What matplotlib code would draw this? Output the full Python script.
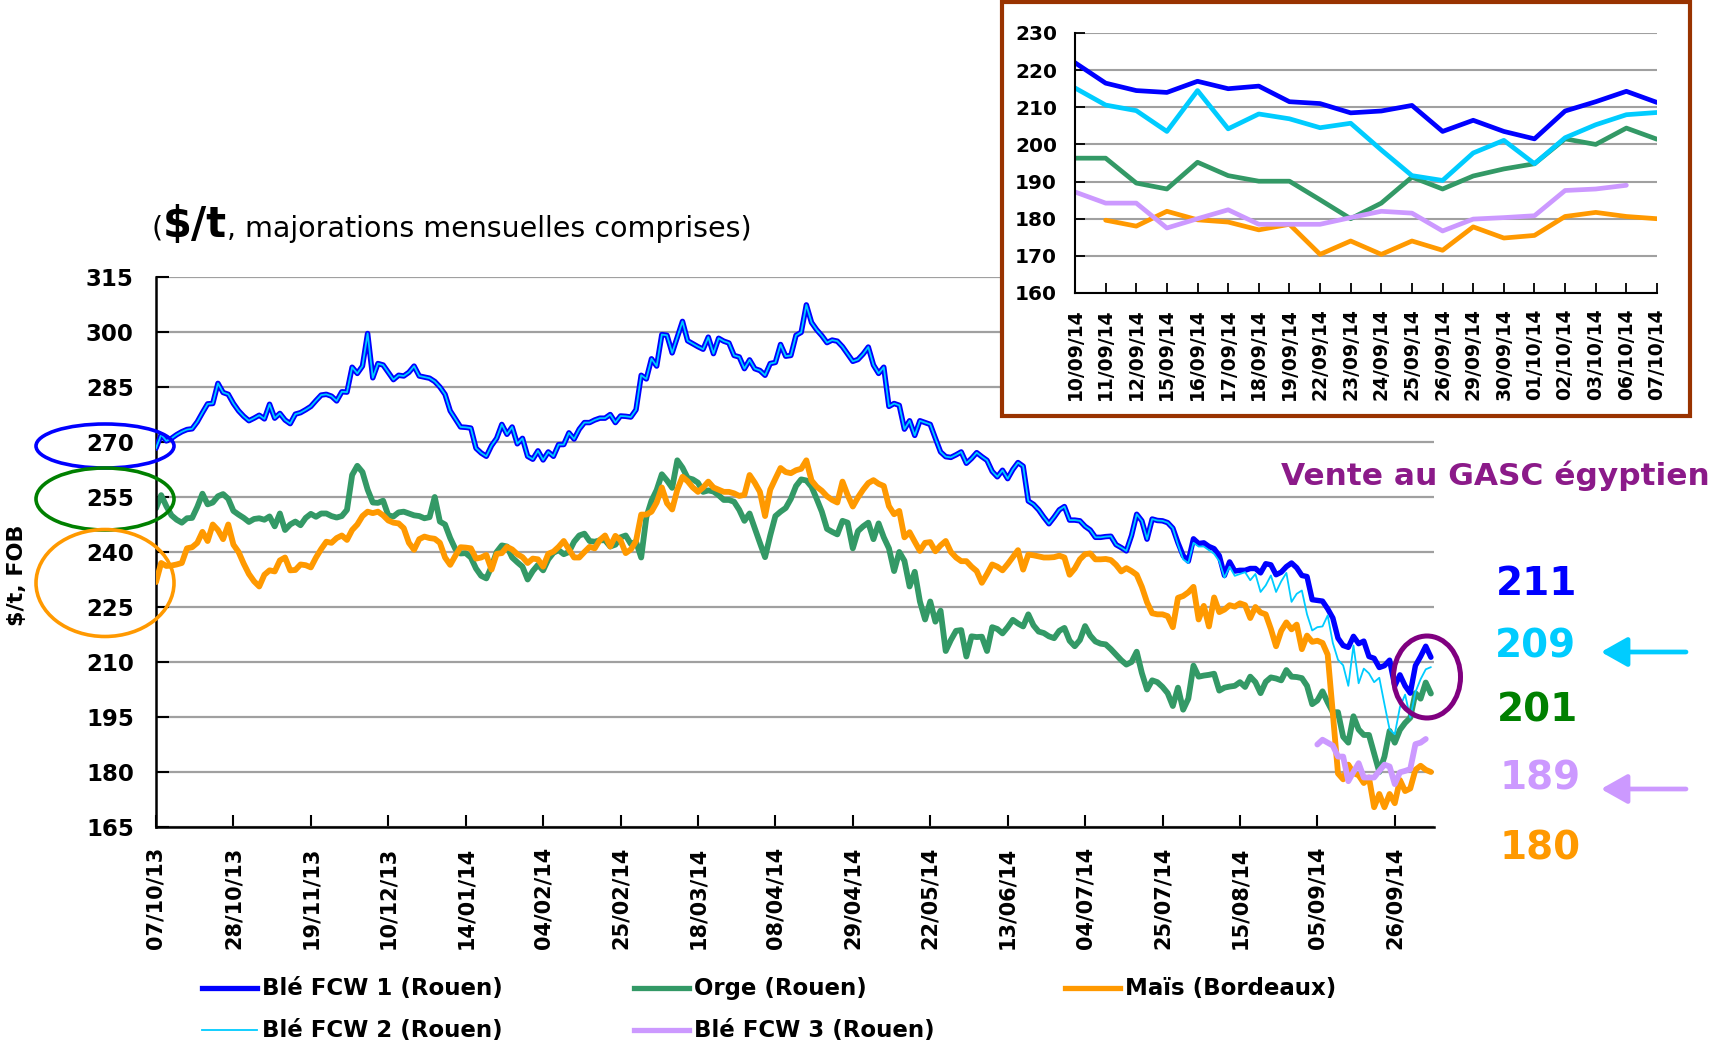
import numpy as np
import matplotlib
matplotlib.use("Agg")
from matplotlib import pyplot as plt
from matplotlib.patches import Ellipse, Rectangle, FancyArrowPatch
from matplotlib.lines import Line2D

W, H = 1713, 1048

# ---------------- data
dates_main = ["07/10/13", "28/10/13", "19/11/13", "10/12/13", "14/01/14", "04/02/14",
              "25/02/14", "18/03/14", "08/04/14", "29/04/14", "22/05/14", "13/06/14",
              "04/07/14", "25/07/14", "15/08/14", "05/09/14", "26/09/14"]
dates_zoom = ["10/09/14", "11/09/14", "12/09/14", "15/09/14", "16/09/14", "17/09/14",
              "18/09/14", "19/09/14", "22/09/14", "23/09/14", "24/09/14", "25/09/14",
              "26/09/14", "29/09/14", "30/09/14", "01/10/14", "02/10/14", "03/10/14",
              "06/10/14", "07/10/14"]
noms = ["Blé FCW 1 (Rouen)", "Orge (Rouen)", "Maïs (Bordeaux)",
        "Blé FCW 2 (Rouen)", "Blé FCW 3 (Rouen)"]

# prix quotidiens 07/10/13 -> 09/09/14
ble1_hist = [268.3, 272, 270.3, 271, 272, 272.8, 273.4, 273.6, 275.5, 278,
             280.4, 280.5, 286, 283.5, 283, 280.5, 278.5, 277, 275.8, 276.5,
             277.3, 276.3, 280.3, 276.5, 277.8, 276, 275, 277.6, 278, 278.8,
             279.7, 281.3, 282.8, 283, 282.5, 281.2, 283.7, 283.6, 290.4, 288.7,
             290.7, 299.6, 287.5, 291.4, 291, 289, 287, 288.2, 288, 289,
             290.7, 288, 287.7, 287.4, 286.5, 285, 283, 278.5, 276.3, 274.1,
             274, 273.8, 268.3, 267, 266.1, 269, 271, 274.8, 272.1, 274.1,
             269.5, 271, 266.1, 265.3, 267.6, 265.1, 267.3, 266.1, 269.3, 269.3,
             272.5, 270.8, 273.5, 275.3, 275.3, 276, 276.5, 276.5, 277.5, 275.3,
             277.1, 277, 276.8, 278.8, 288.2, 287.2, 292.7, 290.7, 299.3, 299.1,
             294.3, 298.6, 302.9, 297.6, 296.8, 296, 295.3, 298.6, 294.1, 298.3,
             297.5, 297, 293.6, 293.2, 290, 292.4, 290, 289.5, 288.2, 291.4,
             291.7, 296.6, 293.4, 293.6, 299.1, 299.9, 307.4, 302.6, 300.6, 299,
             297.1, 297.8, 297.5, 296, 294, 292, 292.5, 294, 295.9, 291,
             288.7, 290.4, 279.7, 280.5, 280, 273.5, 275.8, 271.8, 275.8, 275.3,
             274.8, 271, 267.3, 266, 265.8, 266.5, 267.3, 264.2, 265.5, 267.1,
             266, 265, 262, 260.5, 262.3, 260, 262.5, 264.4, 263.4, 253.9,
             253, 251.5, 249.5, 247.7, 249.5, 251.5, 252.4, 248.7, 248.7, 248.5,
             247, 246, 244, 244, 244.2, 244.3, 242, 241.2, 240.3, 244.5,
             250.3, 248.5, 243.5, 249, 248.6, 248.5, 248, 246.5, 242.5, 239,
             237.5, 243.6, 242.3, 242.5, 241.5, 240.9, 239, 233.6, 237.3, 234.8,
             235, 235, 235.5, 235.5, 234.3, 236.8, 236.5, 233.8, 234.5, 236,
             237, 235.7, 233.6, 233.3, 227, 226.8, 226.6, 224.5]
orge_hist = [251.9, 255.5, 252.5, 250, 248.8, 248, 249.2, 249.3, 252.3, 255.9,
             253, 253.5, 255.2, 255.8, 254.5, 251.2, 250.2, 249.3, 248.2, 249,
             249.2, 248.8, 249.7, 247, 250.5, 246, 247.5, 248.3, 247.3, 249.3,
             250.4, 249.6, 250.5, 250.5, 249.8, 249.4, 249.8, 251.5, 261, 263.5,
             261.8, 257, 253.5, 253.4, 254, 250, 249.7, 250.8, 251, 250.5,
             250, 249.8, 249.2, 249.5, 255, 248.3, 247.5, 243.8, 240.8, 239.6,
             239.7, 238.5, 235.5, 233.5, 232.8, 236, 240, 241.8, 241.5, 238.5,
             237.2, 236, 232.5, 234.8, 236.5, 235, 238, 239.8, 240.5, 239.4,
             240, 242.8, 244.5, 245, 243, 242.8, 243.2, 243.2, 241.5, 242,
             244, 244.5, 242.2, 242.8, 238.5, 249.5, 254, 256.9, 261.2, 259.5,
             257.5, 265, 263, 260.2, 259.8, 258.9, 256.4, 256.8, 256.5, 255.5,
             254.2, 254.2, 253.7, 251.5, 248.5, 250.5, 246.5, 242.5, 238.6, 244.5,
             249.8, 251, 252, 254.5, 258, 259.8, 259.5, 257.8, 254.5, 251,
             246.3, 245.5, 244.8, 248.5, 248, 241, 245.7, 247, 248, 243.5,
             247.8, 244, 241, 234.8, 240, 237.6, 230.6, 234.6, 226.5, 221.6,
             226.5, 221, 224, 213, 216, 218.5, 218.7, 211.5, 217, 216.8,
             216.9, 213, 219.5, 219, 217.8, 219.5, 221.5, 220.5, 219.7, 223,
             220, 218.3, 217.9, 217, 216.5, 218.5, 219.3, 215.8, 214.3, 216,
             219.8, 217.2, 215.6, 215, 214.8, 213.5, 212, 210.5, 209.3, 210,
             212.8, 207, 202.5, 205, 204.5, 203.2, 201.5, 198, 203, 197,
             200, 209, 206, 206.3, 206.5, 206.8, 202.2, 203, 203.3, 203.5,
             204.5, 203.2, 206, 204.5, 201.5, 204.6, 205.8, 205.5, 205, 207.8,
             206, 205.9, 205.6, 203.5, 198.5, 199.5, 202, 199]
mais_hist = [231.8, 237, 236.2, 236.3, 236.6, 237, 241, 241.3, 242.5, 245.5,
             243, 247.5, 246, 243.5, 247.5, 242, 240, 236.8, 234, 232,
             230.6, 233.8, 235, 234.7, 237.7, 238.5, 235, 235.1, 236.6, 236.4,
             235.8, 238.5, 240.8, 242.8, 242.5, 243.8, 244.5, 243.3, 246, 247.5,
             249.8, 251, 250.6, 251, 250, 248.6, 248, 247.8, 246.5, 242.5,
             240.6, 243.5, 244.2, 243.8, 243.6, 242.5, 238.5, 236.5, 239, 241.3,
             241.2, 241, 238.2, 238.5, 239.2, 235.2, 239.5, 239.7, 241.4, 240.7,
             239.4, 238.6, 237, 238.2, 238, 236, 239.5, 240.1, 241.4, 243,
             240.7, 238.5, 238.5, 240, 241.4, 241, 243.3, 244.5, 241.5, 244.4,
             243.2, 239.7, 240.7, 243, 250.2, 250.2, 251, 253.5, 257.6, 253.3,
             251.6, 257, 260.5, 259.3, 257.6, 256.4, 257.6, 259.2, 257.6, 257,
             256.4, 256.4, 256, 255.3, 255.6, 261, 258.9, 256.4, 249.8, 257,
             260, 262.9, 261.8, 261.5, 262.3, 262.7, 265, 259.5, 257.8, 256.7,
             255.2, 254.2, 253.5, 259.2, 255.5, 252.4, 254.9, 257, 258.8, 259.6,
             258.6, 258, 252.5, 250.3, 251.2, 244, 245.4, 242.8, 240.3, 242.5,
             242.7, 240.2, 241.8, 243, 240, 238.5, 237.5, 237.5, 236, 234.8,
             231.6, 234, 236.6, 236, 235, 236.7, 238.6, 240.5, 235.2, 239.3,
             239.1, 238.8, 238.5, 238.5, 238.6, 239, 238.5, 233.8, 235.5, 238,
             239.4, 239.6, 238, 238, 238.1, 237.8, 236.5, 234.7, 235.6, 234.8,
             233.8, 230.5, 226.3, 223.3, 223, 223, 222.5, 219.5, 227.5, 228,
             229, 230.5, 221.6, 225.3, 219.7, 227.6, 223.6, 224.3, 225.5, 225.1,
             226, 225.5, 222, 225, 223.5, 223, 219, 214.3, 218.5, 220.8,
             218.9, 220.2, 213.5, 217.2, 215.5, 215.8, 215.2, 212]
# FCW 2 : identique au FCW 1 jusqu'au point 197, puis ses propres cotations
ble2_late = [242, 238, 237, 242.5, 241.5, 241.5, 240.5, 239.5, 237.5, 233,
             236, 233.5, 234, 234.5, 232.3, 234, 229.1, 230.9, 233.6, 229.1,
             232, 234.3, 226.4, 228.6, 229.5, 223, 218.6, 219.5, 219.7, 222.7]
ble3_debut = 225
ble3_hist = [187.5, 188.8, 188.0]

# 10/09/14 -> 07/10/14 (zoom)
ble1_recent = [222, 216.5, 214.5, 214, 217, 215, 215.7, 211.5, 211, 208.5,
               209, 210.5, 203.5, 206.5, 203.5, 201.5, 209, 211.5, 214.3, 211.3]
ble2_recent = [215.2, 210.6, 209.1, 203.5, 214.5, 204.2, 208.2, 206.9, 204.5, 205.7,
               198.5, 191.6, 190.3, 197.7, 201.1, 194.8, 201.8, 205.3, 208, 208.6]
orge_recent = [196.3, 196.3, 189.6, 188, 195.2, 191.6, 190.1, 190.1, 185.1, 180,
               184.2, 191.2, 188, 191.5, 193.4, 194.8, 201.5, 200, 204.4, 201.4]
mais_recent = [196, 179.6, 178, 182, 179.7, 179.1, 177, 178.5, 170.4, 174,
               170.4, 174, 171.5, 177.8, 174.8, 175.5, 180.6, 181.7, 180.6, 180]
ble3_recent = [187.2, 184.2, 184.2, 177.5, 180, 182.4, 178.5, 178.5, 178.5, 180.3,
               182, 181.5, 176.7, 179.9, 180.3, 180.8, 187.6, 188, 189, None]

derniers = ["211", "209", "201", "189", "180"]

# ---------------- series completes
ble1 = np.array(ble1_hist + ble1_recent, dtype=float)
ble2 = np.array(ble1_hist[:198] + ble2_late + ble2_recent, dtype=float)
orge = np.array(orge_hist + orge_recent, dtype=float)
mais = np.array(mais_hist + mais_recent, dtype=float)
ble3 = np.array([None] * ble3_debut + ble3_hist + ble3_recent, dtype=float)

c_ble1, c_ble2, c_orge, c_mais, c_ble3 = "#0000FF", "#00CCFF", "#339966", "#FF9900", "#CC99FF"


def fx(px):
    return px / W


def fy(py):
    return 1 - py / H


fig = plt.figure(figsize=(W / 100, H / 100), dpi=100)

# ---------------- graphique principal
ax = fig.add_axes([fx(156), fy(827), 1278 / W, 550 / H])
x = np.arange(len(ble1))
kw = dict(solid_joinstyle="round", solid_capstyle="round")
ax.plot(x, orge, color=c_orge, lw=4.2, zorder=2, **kw)
ax.plot(x, mais, color=c_mais, lw=4.2, zorder=3, **kw)
ax.plot(x, ble3, color=c_ble3, lw=4.2, zorder=4, **kw)
ax.plot(x, ble1, color=c_ble1, lw=3.9, zorder=5, **kw)
ax.plot(x, ble2, color=c_ble2, lw=1.3, zorder=6, **kw)

ax.set_xlim(0, 247.6)
ax.set_ylim(165, 315)
ax.set_yticks(range(165, 316, 15))
ax.set_xticks(range(0, 15 * len(dates_main), 15))
ax.set_xticklabels(dates_main, rotation=90, fontsize=15, fontweight="bold")
for t in ax.get_yticklabels():
    t.set_fontsize(16.5)
    t.set_fontweight("bold")
ax.tick_params(axis="both", direction="in", length=9, width=1.5)
ax.tick_params(axis="x", pad=14)
ax.tick_params(axis="y", pad=16)
ax.grid(axis="y", color="#A0A0A0", lw=1.6)
ax.set_axisbelow(True)
for s in ["top", "right"]:
    ax.spines[s].set_visible(False)
for s in ["left", "bottom"]:
    ax.spines[s].set_linewidth(1.8)

# ---------------- encart
fig.add_artist(Rectangle((fx(1002), fy(416)), 688 / W, 414 / H, transform=fig.transFigure,
                         facecolor="white", edgecolor="#993300", lw=3, zorder=1))
ax2 = fig.add_axes([fx(1075), fy(293), 582 / W, 260 / H])
ax2.set_zorder(2)
xi = np.arange(len(dates_zoom))
ax2.plot(xi[1:], mais_recent[1:], color=c_mais, lw=3.4, **kw)
ax2.plot(xi, orge_recent, color=c_orge, lw=3.4, **kw)
ax2.plot(xi, np.array(ble3_recent, dtype=float), color=c_ble3, lw=3.4, **kw)
ax2.plot(xi, ble2_recent, color=c_ble2, lw=3.4, **kw)
ax2.plot(xi, ble1_recent, color=c_ble1, lw=3.4, **kw)
ax2.set_xlim(0, len(dates_zoom) - 1)
ax2.set_ylim(160, 230)
ax2.set_yticks(range(160, 231, 10))
ax2.set_xticks(xi)
ax2.set_xticklabels(dates_zoom, rotation=90, fontsize=13.5, fontweight="bold")
for t in ax2.get_yticklabels():
    t.set_fontsize(14.5)
    t.set_fontweight("bold")
ax2.tick_params(axis="both", direction="in", length=7, width=1.3)
ax2.tick_params(axis="x", pad=11)
ax2.tick_params(axis="y", pad=13)
ax2.grid(axis="y", color="#A0A0A0", lw=1.5)
ax2.set_axisbelow(True)
for s in ["top", "right"]:
    ax2.spines[s].set_visible(False)
for s in ["left", "bottom"]:
    ax2.spines[s].set_linewidth(1.5)

# ---------------- titres
r = fig.canvas.get_renderer()
yb = fy(237)
t1 = fig.text(fx(152), yb, "(", fontsize=20.5, va="baseline")
bb = t1.get_window_extent(r)
t2 = fig.text(bb.x1 / W, yb, r"\$/t", fontsize=30, fontweight="bold", va="baseline")
bb = t2.get_window_extent(r)
fig.text(bb.x1 / W, yb, ", majorations mensuelles comprises)", fontsize=20.5, va="baseline")

fig.text(fx(17), fy(575), r"\$/t, FOB", rotation=90, fontsize=16, fontweight="bold",
         ha="center", va="center")

# ---------------- annotations
for (cx, cy, w, h, c) in [(105, 446, 138, 44, "#0000FF"), (105, 499, 138, 62, "#008000"),
                          (105, 583, 138, 107, "#FF9900")]:
    fig.add_artist(Ellipse((fx(cx), fy(cy)), w / W, h / H, transform=fig.transFigure,
                           fill=False, edgecolor=c, lw=2.6, zorder=3))
fig.add_artist(Ellipse((fx(1427), fy(677)), 67 / W, 82 / H, transform=fig.transFigure,
                       fill=False, edgecolor="#800080", lw=3.6, zorder=7))

fig.text(fx(1710), fy(476), "Vente au GASC égyptien", color="#8B1A89", fontsize=22.5,
         fontweight="bold", ha="right", va="center")

for (txt, cx, cy, c) in zip(derniers, [1537, 1535, 1537, 1540, 1540],
                            [584, 647, 710, 779, 848],
                            [c_ble1, c_ble2, "#008000", c_ble3, c_mais]):
    fig.text(fx(cx), fy(cy), txt, color=c, fontsize=28, fontweight="bold",
             ha="center", va="center")

for (cy, c) in [(652, c_ble2), (789, c_ble3)]:
    fig.add_artist(FancyArrowPatch((fx(1686), fy(cy)), (fx(1601), fy(cy)),
                                   transform=fig.transFigure, color=c, lw=3.4,
                                   arrowstyle="-|>,head_length=0.8,head_width=0.45",
                                   mutation_scale=20, shrinkA=0, shrinkB=0))

# ---------------- legende
leg = [(202, 988, c_ble1, 3.8), (634, 988, c_orge, 3.8), (1065, 988, c_mais, 3.8),
       (202, 1030, c_ble2, 1.3), (634, 1030, c_ble3, 3.8)]
for (lx, ly, c, lw), nom in zip(leg, noms):
    fig.add_artist(Line2D([fx(lx), fx(lx + 55)], [fy(ly), fy(ly)], transform=fig.transFigure,
                          color=c, lw=lw))
    fig.text(fx(lx + 60), fy(ly), nom, fontsize=16.5, fontweight="bold", va="center")

fig.savefig("out.png", dpi=100)
